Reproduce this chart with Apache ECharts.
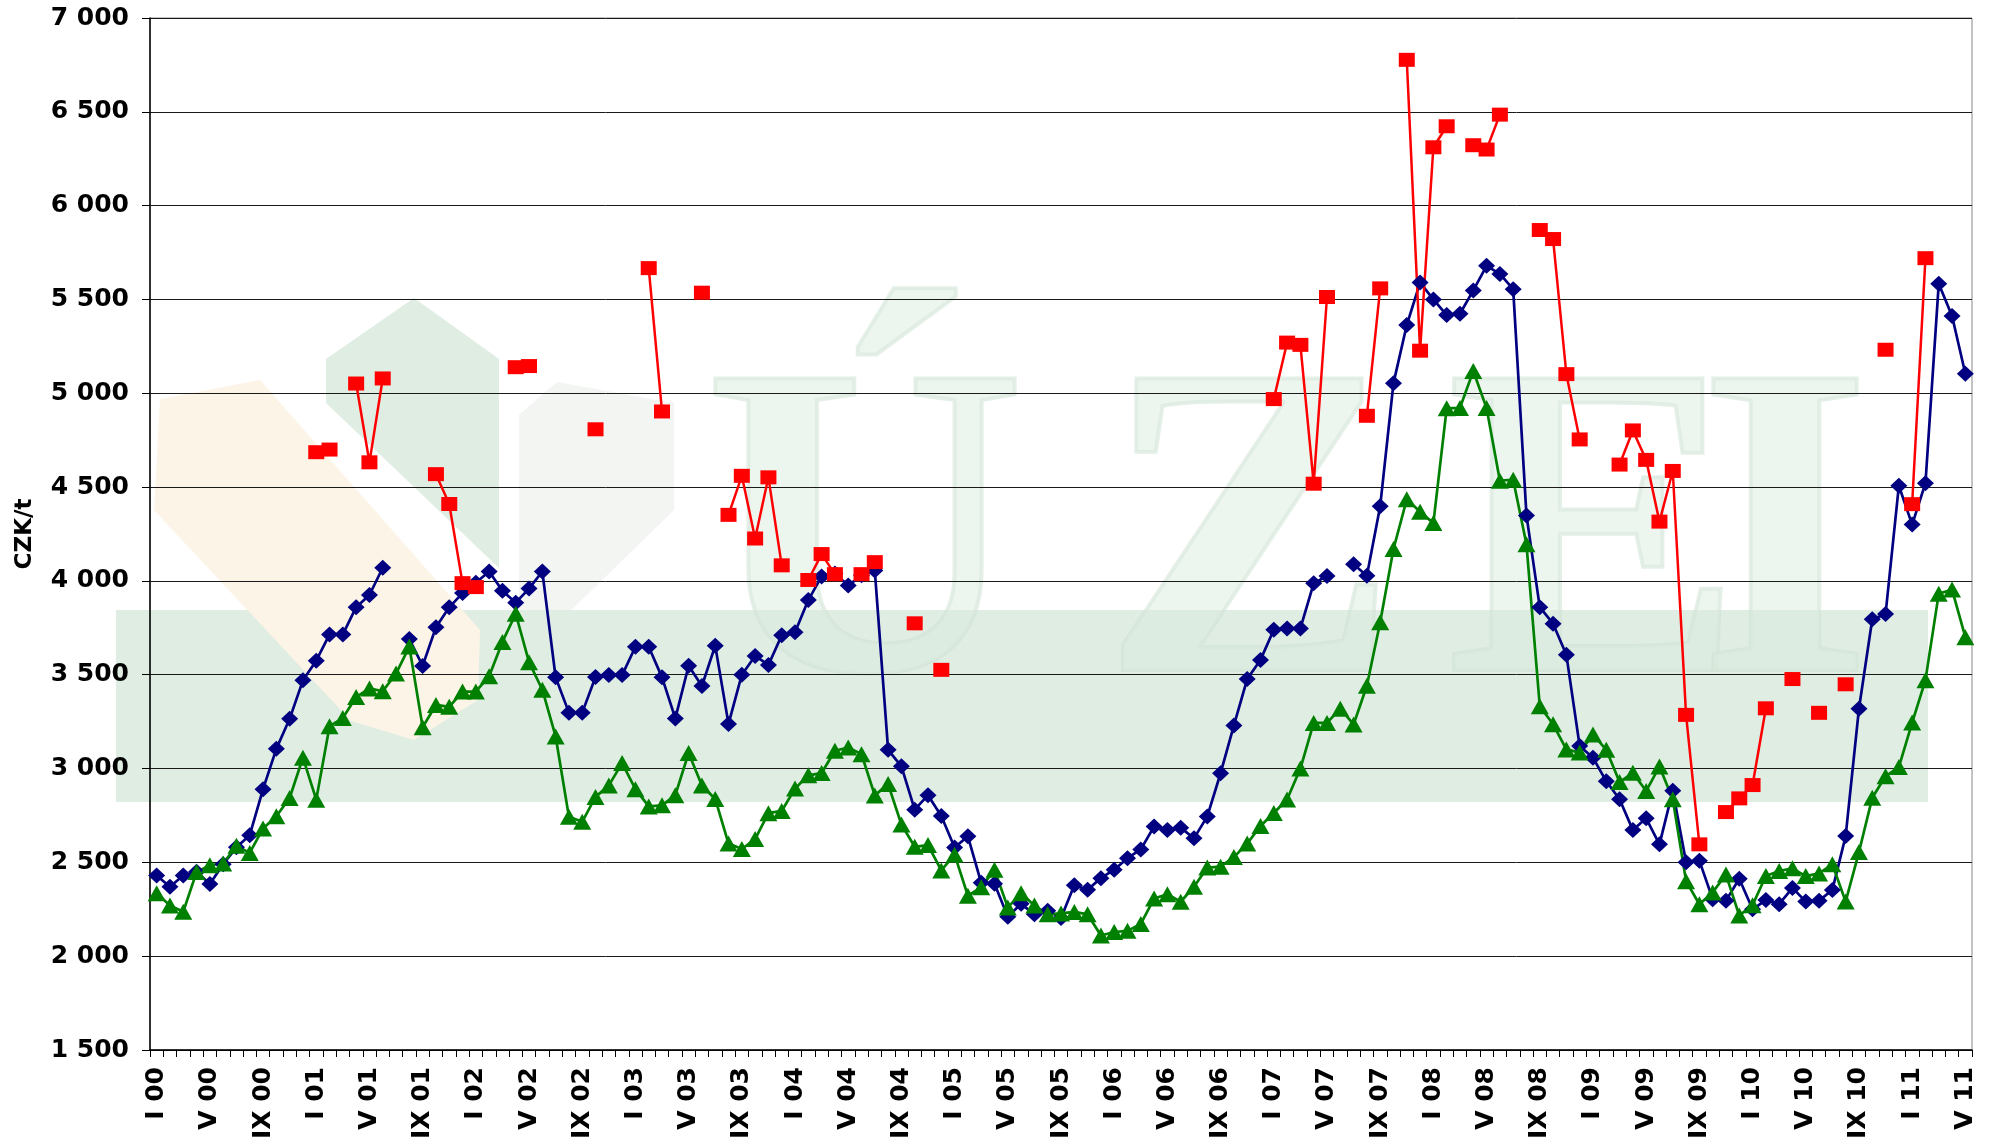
<!DOCTYPE html>
<html>
<head>
<meta charset="utf-8">
<script src="https://cdn.jsdelivr.net/npm/echarts@6/dist/echarts.min.js"></script>
<style>
html,body{margin:0;padding:0;background:#fff;}
#chart{width:1989px;height:1138px;}
</style>
</head>
<body>
<div id="chart"></div>
<script>
// Month labels (Roman numerals) and years
const months = ['I','II','III','IV','V','VI','VII','VIII','IX','X','XI','XII'];
const years = ['00','01','02','03','04','05','06','07','08','09','10','11'];
const categories = [];
years.forEach(y => months.forEach(m => categories.push(m + ' ' + y)));
categories.length = 137; // I 00 ... V 11

// Y axis ticks
const yMin = 1500, yMax = 7000, yStep = 500;

// Blue series (diamonds)
const blueSeries = [
  2430,2370,2430,2450,2385,2490,2580,2645,2890,3105,3265,3470,
  3575,3715,3715,3860,3925,4070,null,3690,3547,3753,3859,3935,
  3990,4050,3947,3884,3959,4050,3486,3298,3298,3488,3498,3498,
  3649,3649,3486,3267,3548,3440,3655,3238,3500,3600,3552,3710,
  3726,3898,4024,4040,3975,4030,4055,3100,3012,2781,2858,2747,
  2579,2639,2391,2386,2210,2279,2223,2242,2204,2378,2354,2416,
  2461,2522,2569,2691,2672,2685,2628,2745,2975,3230,3477,3579,
  3740,3747,3747,3987,4026,null,4089,4028,4398,5054,5364,5590,
  5500,5417,5424,5548,5679,5636,5555,4349,3860,3772,3606,3120,
  3058,2932,2836,2672,2735,2596,2882,2501,2509,2304,2296,2413,
  2250,2299,2277,2364,2291,2296,2353,2640,3319,3796,3823,4507,
  4300,4521,5584,5412,5104
];

// Green series (triangles)
const greenSeries = [
  2336,2270,2237,2448,2485,2494,2588,2550,2681,2746,2843,3058,
  2834,3226,3269,3381,3427,3412,3506,3650,3220,3339,3329,3410,
  3410,3492,3675,3825,3567,3420,3171,2743,2716,2849,2910,3029,
  2890,2798,2804,2858,3083,2910,2838,2600,2571,2624,2762,2774,
  2893,2964,2976,3095,3112,3076,2857,2917,2702,2583,2592,2457,
  2541,2322,2367,2461,2260,2335,2270,2223,2228,2236,2223,2110,
  2129,2135,2172,2307,2330,2290,2370,2472,2477,2528,2600,2694,
  2763,2835,3000,3243,3243,3319,3235,3441,3780,4170,4435,4369,
  4308,4920,4922,5119,4921,4534,4539,4195,3332,3236,3102,3085,
  3182,3100,2928,2977,2880,3011,2836,2400,2277,2340,2435,2217,
  2272,2427,2454,2468,2427,2441,2490,2291,2555,2844,2959,3008,
  3245,3471,3932,3954,3700
];

// Red series (squares), with gaps
const redSeries = [
  null,null,null,null,null,null,null,null,null,null,null,null,
  4686,4700,null,5052,4632,5079,null,null,null,4569,4410,3988,
  3967,null,null,5139,5145,null,null,null,null,4808,null,null,
  null,5667,4903,null,null,5536,null,4352,4560,4226,4552,4083,
  null,4005,4143,4036,null,4036,4100,null,null,3774,null,3526,
  null,null,null,null,null,null,null,null,null,null,null,null,
  null,null,null,null,null,null,null,null,null,null,null,null,
  4969,5270,5258,4518,5513,null,null,4880,5559,null,6777,5227,
  6311,6423,null,6322,6299,6485,null,null,5870,5822,5102,4754,
  null,null,4620,4802,4645,4316,4586,3286,2596,null,2768,2841,
  2912,3321,null,3477,null,3297,null,3449,null,null,5232,null,
  4409,5720,null,null,null
];

const fmt = v => String(v).replace(/\B(?=(\d{3})+(?!\d))/g, ' ');
const lblFont = {fontFamily:'DejaVu Sans', fontWeight:'bold', color:'#000'};

const chart = echarts.init(document.getElementById('chart'), null, {renderer:'canvas'});
const wm = '#dfede3';
const letterStyle = (t) => ({text:t, font:'bold 445px "Liberation Serif"', align:'center', verticalAlign:'middle',
  fill:'rgba(220,235,224,0.5)', stroke:'rgba(205,226,211,0.55)', lineWidth:4});
chart.setOption({
  animation:false,
  backgroundColor:'#ffffff',
  graphic:[
    {type:'polygon', z:-10, silent:true, shape:{points:[[326,359],[414,298],[499,359],[499,568],[326,403]]}, style:{fill:wm}},
    {type:'polygon', z:-10, silent:true, shape:{points:[[519,415],[557,382],[674,403],[674,510],[548,633],[519,633]]}, style:{fill:'#f3f5f3'}},
    {type:'rect', z:-10, silent:true, shape:{x:116,y:610,width:1812,height:192}, style:{fill:wm}},
    {type:'polygon', z:-9, silent:true, shape:{points:[[160,399],[260,380],[480,630],[478,700],[414,740],[351,721],[154,510]]}, style:{fill:'#fcf4e6'}},
    {type:'text', z:-8, silent:true, x:865, y:555, style:letterStyle('Ú')},
    {type:'text', z:-8, silent:true, x:1250, y:555, style:letterStyle('Z')},
    {type:'text', z:-8, silent:true, x:1595, y:555, style:letterStyle('E')},
    {type:'text', z:-8, silent:true, x:1785, y:555, style:letterStyle('I')}
  ],
  grid:{left:150, right:17, top:18, bottom:88, containLabel:false, outerBoundsMode:'none',
        show:true, borderColor:'#888', borderWidth:1, backgroundColor:'transparent'},
  xAxis:{
    type:'category', data:categories, boundaryGap:true,
    axisLine:{lineStyle:{color:'#000', width:1.5}},
    axisTick:{show:true, interval:0, length:7, lineStyle:{color:'#000'}},
    axisLabel:Object.assign({interval:3, rotate:90, fontSize:25, margin:17}, lblFont),
    splitLine:{show:false}
  },
  yAxis:{
    type:'value', min:yMin, max:yMax, interval:yStep,
    name:'CZK/t', nameLocation:'middle', nameGap:113, nameRotate:90,
    nameTextStyle:{fontFamily:'DejaVu Sans', fontWeight:'bold', fontSize:23, color:'#000'},
    axisLine:{show:true, lineStyle:{color:'#000', width:1.5}},
    axisTick:{show:true, length:8, lineStyle:{color:'#000'}},
    axisLabel:Object.assign({fontSize:25, margin:21, formatter:fmt}, lblFont),
    splitLine:{show:true, lineStyle:{color:'#1a1a1a', width:1}}
  },
  series:[
    {type:'line', name:'blue', data:blueSeries, symbol:'diamond', symbolSize:[17,16], showAllSymbol:true,
     lineStyle:{color:'#000080', width:2.7}, itemStyle:{color:'#000080'}, connectNulls:false},
    {type:'line', name:'green', data:greenSeries, symbol:'triangle', symbolSize:[18,16], showAllSymbol:true,
     lineStyle:{color:'#008000', width:2.7}, itemStyle:{color:'#008000'}, connectNulls:false},
    {type:'line', name:'red', data:redSeries, symbol:'rect', symbolSize:[16,14], showAllSymbol:true,
     lineStyle:{color:'#ff0000', width:2.5}, itemStyle:{color:'#ff0000'}, connectNulls:false}
  ]
});
</script>
</body>
</html>
